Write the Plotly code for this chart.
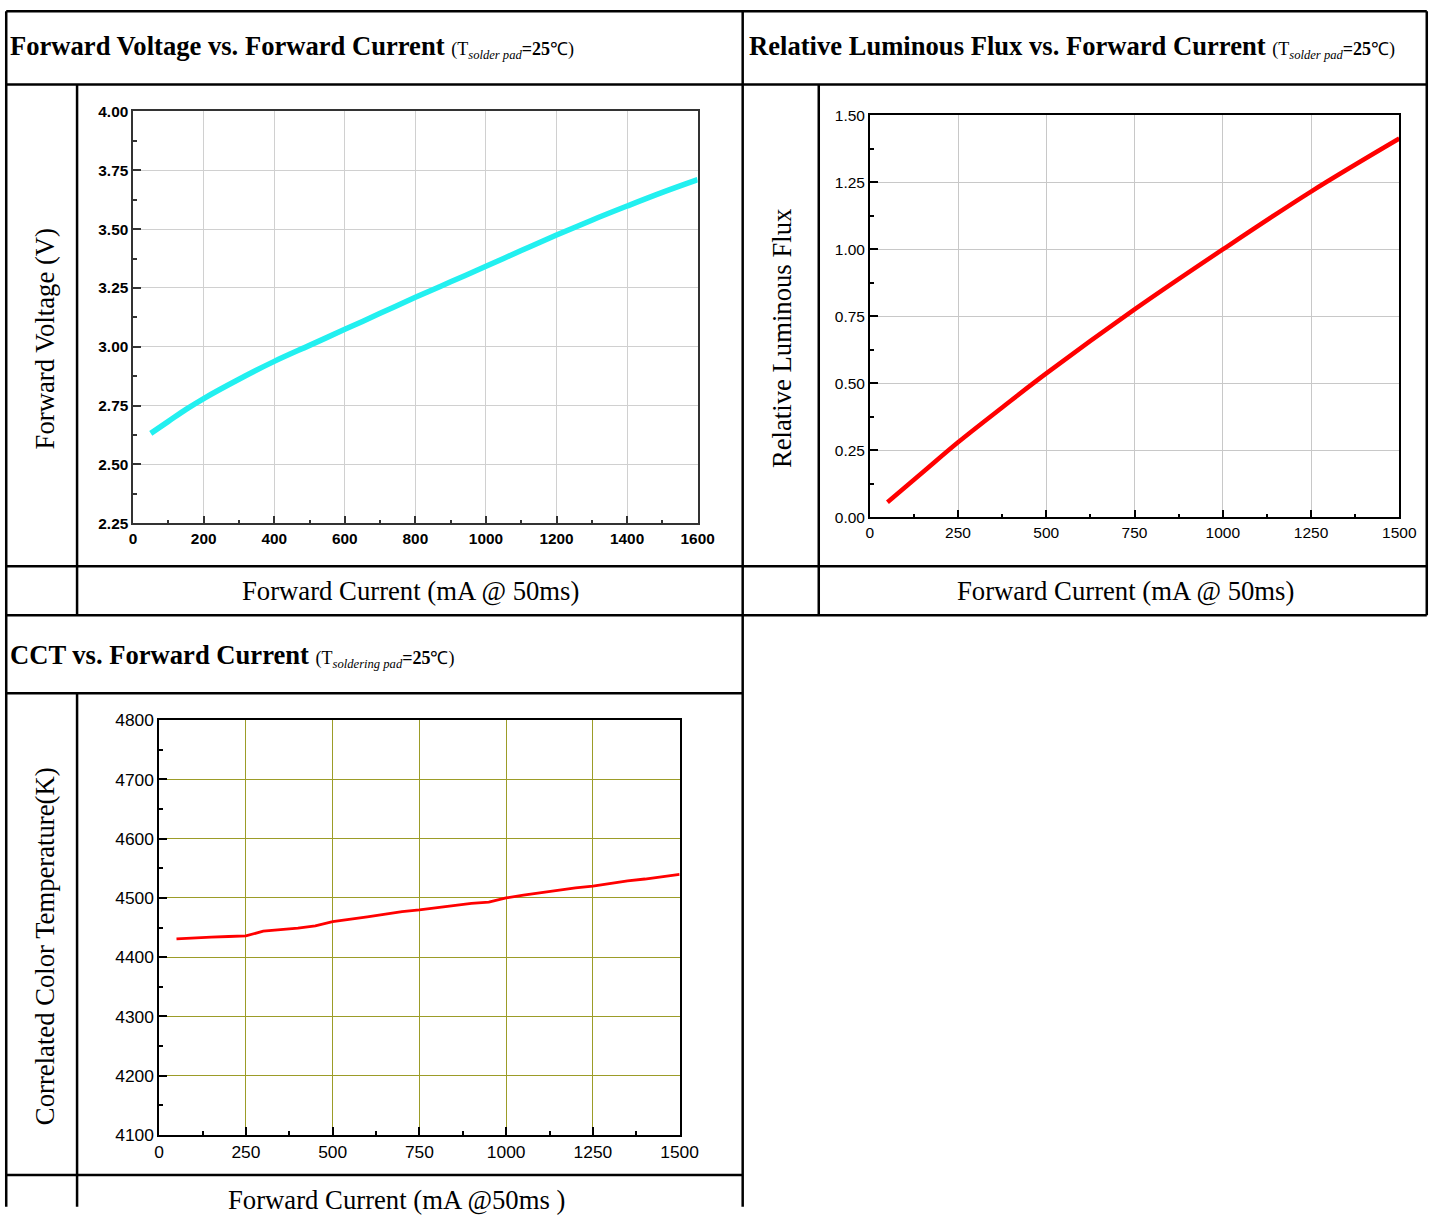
import plotly.graph_objects as go

W, H = 1447, 1218
# the photographed page appears scaled/offset: image = A + S * page  (measured from earlier renders)
SX, SY, AX, AY = 0.9825, 0.984, 5.0, 8.5

# ---------------- data ----------------
fv_current = [50, 100, 150, 200, 300, 400, 500, 600, 700, 800, 900, 1000, 1100, 1200, 1300, 1400, 1500, 1600]
fv_voltage = [2.632, 2.683, 2.734, 2.780, 2.862, 2.938, 3.006, 3.074, 3.142, 3.210, 3.276, 3.342, 3.409, 3.475, 3.538, 3.598, 3.656, 3.710]

lf_current = [50, 150, 250, 375, 500, 750, 1000, 1250, 1500]
lf_flux = [0.056, 0.168, 0.280, 0.410, 0.537, 0.776, 1.000, 1.216, 1.414]

cct_current = [50, 100, 150, 200, 250, 300, 350, 400, 450, 500, 600, 700, 750, 800, 850, 900, 950,
               1000, 1050, 1100, 1150, 1200, 1250, 1300, 1350, 1400, 1500]
cct_temp = [4431, 4433, 4434, 4435, 4436, 4444, 4446, 4449, 4453, 4460, 4468, 4477, 4480, 4484, 4488, 4491, 4493,
            4500, 4505, 4509, 4514, 4517, 4520, 4525, 4529, 4532, 4540]

sub_style = "font-size:18px"
titles = [
    "<b>Forward Voltage vs. Forward Current</b> <span style='%s'>(T<sub><i>solder pad</i></sub><b>=25</b>℃)</span>" % sub_style,
    "<b>Relative Luminous Flux vs. Forward Current</b> <span style='%s'>(T<sub><i>solder pad</i></sub><b>=25</b>℃)</span>" % sub_style,
    "<b>CCT vs. Forward Current</b> <span style='%s'>(T<sub><i>soldering pad</i></sub><b>=25</b>℃)</span>" % sub_style,
]
y_titles = ["Forward Voltage (V)", "Relative Luminous Flux", "Correlated Color Temperature(K)"]
x_titles = ["Forward Current (mA @ 50ms)", "Forward Current (mA @ 50ms)", "Forward Current (mA @50ms )"]


def px(x):
    v = (x - AX) / SX
    v = min(max(v, 1.25), W - 1.25)
    return v / W


def py(y):
    v = (y - AY) / SY
    v = min(max(v, 1.25), H - 1.25)
    return 1 - v / H


fig = go.Figure()

fig.add_trace(go.Scatter(x=fv_current, y=fv_voltage, mode="lines", line=dict(color="#22F0F0", width=5.5),
                         line_shape="spline", xaxis="x", yaxis="y", showlegend=False))
fig.add_trace(go.Scatter(x=lf_current, y=lf_flux, mode="lines", line=dict(color="#FF0000", width=4.5),
                         line_shape="spline", xaxis="x2", yaxis="y2", showlegend=False))
fig.add_trace(go.Scatter(x=cct_current, y=cct_temp, mode="lines", line=dict(color="#FF0000", width=2.8),
                         xaxis="x3", yaxis="y3", showlegend=False))

serif = "Liberation Serif, Times New Roman, serif"
sans = "Liberation Sans, Arial, sans-serif"


def axis(domain, rng, dtick, minor_dtick, font, linecolor, gridcolor, anchor):
    return dict(domain=domain, range=rng, dtick=dtick, tick0=rng[0], ticks="inside", ticklen=8, tickwidth=1.5,
                tickcolor=linecolor, showline=True, linecolor=linecolor, linewidth=1.5, mirror=True,
                showgrid=True, gridcolor=gridcolor, gridwidth=1, zeroline=False, tickfont=font,
                minor=dict(ticks="inside", ticklen=4, dtick=minor_dtick, tickcolor=linecolor, showgrid=False),
                anchor=anchor, fixedrange=True)


f1 = dict(family=sans, size=15.4, color="black", weight="bold")
f2 = dict(family=sans, size=15.5, color="black")
f3 = dict(family=sans, size=17.4, color="black")

layout = dict(
    width=W, height=H, margin=dict(l=0, r=0, t=0, b=0), paper_bgcolor="white", plot_bgcolor="white",
    xaxis=axis([px(133), px(697)], [0, 1600], 200, 100, f1, "#333333", "#D0D0D0", "y"),
    yaxis=axis([py(522), py(110)], [2.25, 4.0], 0.25, 0.125, f1, "#333333", "#D0D0D0", "x"),
    xaxis2=axis([px(869), px(1398)], [0, 1500], 250, 125, f2, "black", "#C8C8C8", "y2"),
    yaxis2=axis([py(516), py(114)], [0, 1.5], 0.25, 0.125, f2, "black", "#C8C8C8", "x2"),
    xaxis3=axis([px(159), px(679)], [0, 1500], 250, 125, f3, "black", "#9C9C28", "y3"),
    yaxis3=axis([py(1134), py(719)], [4100, 4800], 100, 50, f3, "black", "#9C9C28", "x3"),
)
layout["yaxis"]["tickformat"] = ".2f"
layout["yaxis2"]["tickformat"] = ".2f"
fig.update_layout(**layout)

# table lines (reference image pixel coordinates)
segs = [
    (5, 5, 1441, 5), (5, 83, 1441, 83), (5, 565, 1441, 565), (5, 614, 1441, 614),
    (5, 692, 742, 692), (5, 1174, 742, 1174),
    (5, 5, 5, 1218), (742, 5, 742, 1218), (1441, 5, 1441, 614),
    (77, 83, 77, 614), (818, 83, 818, 614), (77, 692, 77, 1218),
]
for x0, y0, x1, y1 in segs:
    fig.add_shape(type="line", xref="paper", yref="paper", x0=px(x0), y0=py(y0), x1=px(x1), y1=py(y1),
                  line=dict(color="black", width=2.5))

# titles
for t, (x, y) in zip(titles, [(8, 45), (746, 45), (8, 654)]):
    fig.add_annotation(text=t, xref="paper", yref="paper", x=px(x), y=py(y), xanchor="left", yanchor="middle",
                       showarrow=False, font=dict(family=serif, size=26.6, color="black"))

for t, (x, y) in zip(y_titles, [(45, 338), (782, 337), (45, 945)]):
    fig.add_annotation(text=t, xref="paper", yref="paper", x=px(x), y=py(y), xanchor="center", yanchor="middle",
                       showarrow=False, textangle=-90, font=dict(family=serif, size=26.7, color="black"))

for t, (x, y) in zip(x_titles, [(410, 590), (1124, 590), (396, 1199)]):
    fig.add_annotation(text=t, xref="paper", yref="paper", x=px(x), y=py(y), xanchor="center", yanchor="middle",
                       showarrow=False, font=dict(family=serif, size=26.7, color="black"))

fig.write_html("out.html", config={"displayModeBar": False},
               post_script="document.body.style.margin='0';")
